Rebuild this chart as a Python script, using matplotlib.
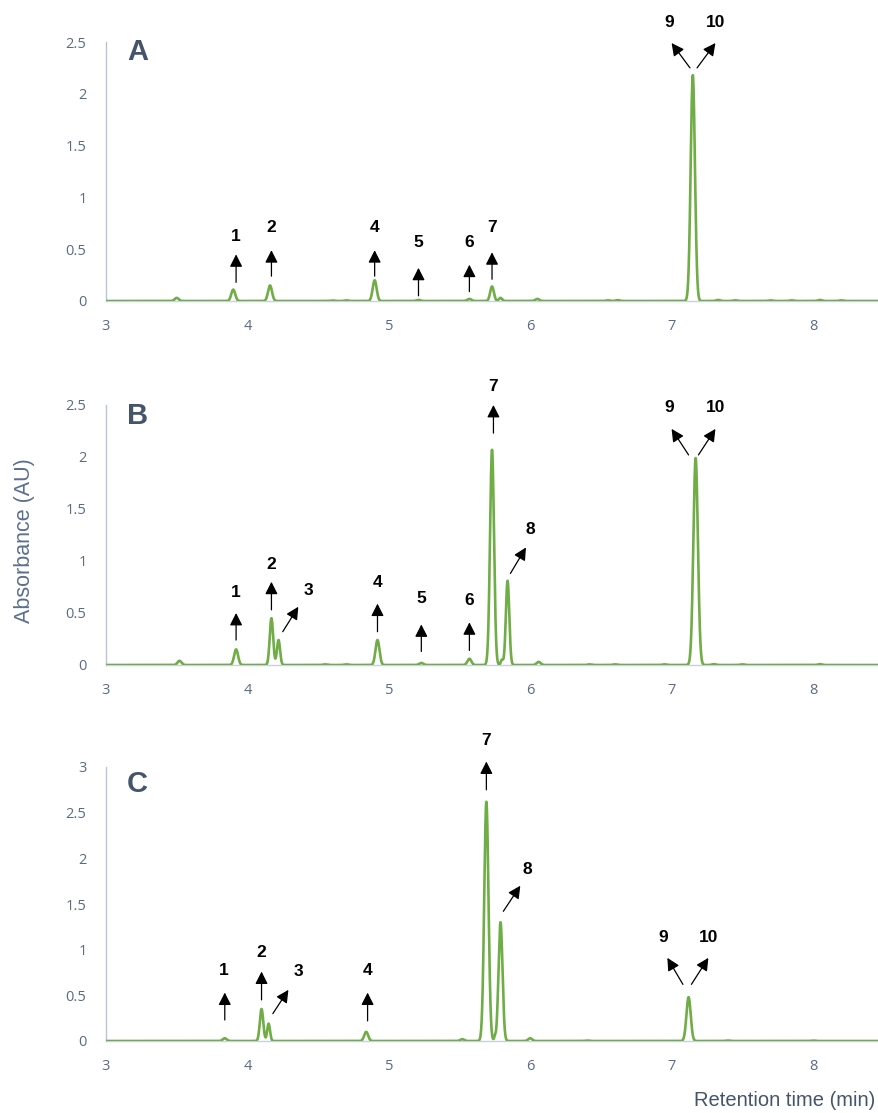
import numpy as np
import matplotlib
matplotlib.use("Agg")
import matplotlib.pyplot as plt

# ---------------- data ----------------
# peak tables (retention time [min], height [AU], sigma [min])
peaks_A_t = [3.50, 3.90, 4.16, 4.60, 4.70, 4.90, 5.21, 5.57, 5.73, 5.79, 6.05, 6.55, 6.62, 7.15, 7.33, 7.45, 7.70, 7.85, 8.05, 8.20]
peaks_A_h = [0.03, 0.11, 0.15, 0.005, 0.006, 0.20, 0.01, 0.02, 0.14, 0.03, 0.02, 0.006, 0.008, 2.18, 0.01, 0.006, 0.006, 0.006, 0.01, 0.006]
peaks_A_s = [0.014, 0.014, 0.014, 0.014, 0.014, 0.014, 0.014, 0.014, 0.013, 0.011, 0.014, 0.014, 0.014, 0.015, 0.014, 0.014, 0.014, 0.014, 0.014, 0.014]

peaks_B_t = [3.52, 3.92, 4.17, 4.22, 4.55, 4.70, 4.92, 5.23, 5.57, 5.73, 5.80, 5.84, 6.06, 6.42, 6.60, 6.95, 7.17, 7.30, 7.50, 8.05]
peaks_B_h = [0.04, 0.15, 0.45, 0.24, 0.006, 0.006, 0.24, 0.02, 0.06, 2.07, 0.05, 0.81, 0.03, 0.006, 0.006, 0.006, 1.99, 0.008, 0.006, 0.008]
peaks_B_s = [0.014, 0.014, 0.012, 0.011, 0.014, 0.014, 0.014, 0.014, 0.014, 0.014, 0.008, 0.012, 0.014, 0.014, 0.014, 0.014, 0.016, 0.014, 0.014, 0.014]

peaks_C_t = [3.84, 4.10, 4.15, 4.84, 5.52, 5.69, 5.75, 5.79, 6.00, 6.40, 7.12, 7.40, 8.00]
peaks_C_h = [0.03, 0.35, 0.19, 0.10, 0.02, 2.62, 0.04, 1.30, 0.03, 0.005, 0.48, 0.005, 0.005]
peaks_C_s = [0.014, 0.012, 0.010, 0.014, 0.014, 0.015, 0.006, 0.014, 0.014, 0.014, 0.015, 0.014, 0.014]

# annotations: label, label position, arrow tail, arrow head
ann_A = [("1", (3.92, 0.62), (3.92, 0.18), (3.92, 0.45)),
         ("2", (4.17, 0.71), (4.17, 0.24), (4.17, 0.49)),
         ("4", (4.90, 0.71), (4.90, 0.24), (4.90, 0.49)),
         ("5", (5.21, 0.56), (5.21, 0.05), (5.21, 0.32)),
         ("6", (5.57, 0.56), (5.57, 0.09), (5.57, 0.35)),
         ("7", (5.73, 0.71), (5.73, 0.21), (5.73, 0.47)),
         ("9", (6.98, 2.69), (7.13, 2.25), (7.00, 2.49)),
         ("10", (7.31, 2.69), (7.18, 2.25), (7.31, 2.49))]
ann_B = [("1", (3.92, 0.70), (3.92, 0.24), (3.92, 0.50)),
         ("2", (4.17, 0.97), (4.17, 0.53), (4.17, 0.80)),
         ("3", (4.43, 0.72), (4.25, 0.32), (4.36, 0.56)),
         ("4", (4.92, 0.79), (4.92, 0.32), (4.92, 0.59)),
         ("5", (5.23, 0.64), (5.23, 0.13), (5.23, 0.39)),
         ("6", (5.57, 0.62), (5.57, 0.14), (5.57, 0.41)),
         ("7", (5.74, 2.68), (5.74, 2.23), (5.74, 2.50)),
         ("8", (6.00, 1.30), (5.86, 0.88), (5.97, 1.13)),
         ("9", (6.98, 2.48), (7.12, 2.02), (7.00, 2.27)),
         ("10", (7.31, 2.48), (7.19, 2.02), (7.31, 2.27))]
ann_C = [("1", (3.83, 0.77), (3.84, 0.23), (3.84, 0.53)),
         ("2", (4.10, 0.97), (4.10, 0.45), (4.10, 0.76)),
         ("3", (4.36, 0.76), (4.18, 0.30), (4.29, 0.56)),
         ("4", (4.85, 0.77), (4.85, 0.22), (4.85, 0.53)),
         ("7", (5.69, 3.29), (5.69, 2.75), (5.69, 3.06)),
         ("8", (5.98, 1.88), (5.81, 1.42), (5.93, 1.70)),
         ("9", (6.94, 1.13), (7.08, 0.62), (6.97, 0.91)),
         ("10", (7.26, 1.13), (7.14, 0.62), (7.26, 0.91))]

panel_letters = ["A", "B", "C"]
y_limits = [2.5, 2.5, 3.0]
y_ticks = [[0, 0.5, 1, 1.5, 2, 2.5], [0, 0.5, 1, 1.5, 2, 2.5], [0, 0.5, 1, 1.5, 2, 2.5, 3]]
y_ticklabels = [["0", "0.5", "1", "1.5", "2", "2.5"], ["0", "0.5", "1", "1.5", "2", "2.5"],
                ["0", "0.5", "1", "1.5", "2", "2.5", "3"]]
x_ticks = [3, 4, 5, 6, 7, 8]

# ---------------- figure ----------------
W, H = 879, 1113
fig = plt.figure(figsize=(W / 100, H / 100), dpi=100)

def fx(px):
    return px / W

def fy(py):
    return 1 - py / H

axes_px = [(301, 42), (665, 405), (1041, 767)]  # (bottom, top) pixel rows
letter_py = [52, 416, 784]
left_px = 106
green = "#70AD47"
slate = "#44546A"
tick_col = "#5A6B85"
tick_font = "Open Sans"

t = np.linspace(3.0, 8.6, 6000)

def trace(ts, hs, ss):
    y = np.zeros_like(t)
    for c, h, s in zip(ts, hs, ss):
        y += h * np.exp(-0.5 * ((t - c) / s) ** 2)
    return y

traces = [(peaks_A_t, peaks_A_h, peaks_A_s), (peaks_B_t, peaks_B_h, peaks_B_s), (peaks_C_t, peaks_C_h, peaks_C_s)]
anns = [ann_A, ann_B, ann_C]

for i in range(3):
    b, tp = axes_px[i]
    ax = fig.add_axes([fx(left_px), fy(b), 1 - fx(left_px), fy(tp) - fy(b)])
    ax.plot(t, trace(*traces[i]), color=green, lw=1.9, solid_joinstyle="round", zorder=3)
    ax.set_xlim(3, 3 + (W - left_px) / 141.4)
    ax.set_ylim(0, y_limits[i])
    ax.set_xticks(x_ticks)
    ax.set_xticklabels([str(v) for v in x_ticks], family=tick_font)
    ax.set_yticks(y_ticks[i])
    ax.set_yticklabels(y_ticklabels[i], family=tick_font)
    ax.tick_params(length=0, labelsize=10.5, colors=tick_col, pad=13)
    ax.tick_params(axis="y", pad=14)
    for sp in ["top", "right"]:
        ax.spines[sp].set_visible(False)
    ax.spines["left"].set_color("#B8C3D6")
    ax.spines["left"].set_linewidth(1.0)
    ax.spines["bottom"].set_color("#C9D1DE")
    ax.spines["bottom"].set_linewidth(1.0)
    ax.patch.set_alpha(0)
    fig.text(fx(127), fy(letter_py[i]), panel_letters[i], fontsize=21,
             fontweight="bold", color=slate, ha="left", va="center", family="Liberation Sans")
    for lab, lpos, tail, head in anns[i]:
        ax.annotate("", xy=head, xytext=tail,
                    arrowprops=dict(arrowstyle="-|>,head_width=0.38,head_length=0.75",
                                    lw=0.9, color="black", shrinkA=0, shrinkB=0,
                                    mutation_scale=10),
                    annotation_clip=False)
        ax.text(lpos[0], lpos[1], lab, fontsize=12.5, fontweight="bold", color="black",
                ha="center", va="center", clip_on=False, family="Liberation Sans")

fig.text(fx(25), fy(541), "Absorbance (AU)", rotation=90, fontsize=15.5,
         color="#5B6F8F", ha="center", va="center", family="Liberation Sans")
fig.text(fx(785), fy(1101), "Retention time (min)", fontsize=14.5,
         color=slate, ha="center", va="center", family="Liberation Sans")

fig.savefig("out.png", dpi=100)
